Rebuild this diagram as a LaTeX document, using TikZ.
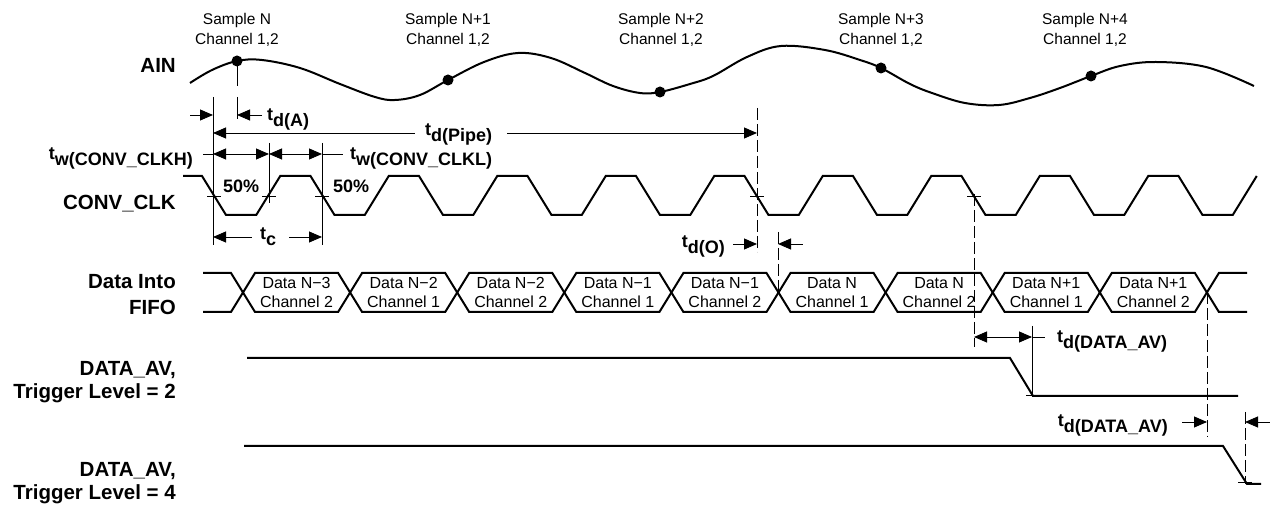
\documentclass[tikz,border=0pt]{standalone}
\usepackage{fontspec}
\setmainfont{Liberation Sans}
\usepackage{tikz}
\usetikzlibrary{arrows.meta}

\newcommand{\tsub}[2]{#1\raisebox{-0.33em}{#2}}

\begin{document}
\begin{tikzpicture}[x=1pt,y=-1pt,
    wave/.style={line width=2pt},
    guide/.style={line width=0.9pt},
    dashline/.style={line width=0.9pt,dash pattern=on 12pt off 4pt},
    sig/.style={font=\fontsize{20.5}{24}\selectfont\bfseries,inner sep=0pt,anchor=base east},
    tlab/.style={font=\fontsize{18}{20}\selectfont\bfseries,inner sep=0pt},
    smp/.style={font=\fontsize{15.5}{20}\selectfont,align=center,inner sep=0pt},
    dat/.style={font=\fontsize{16}{19}\selectfont,align=center,inner sep=0pt}]
\useasboundingbox (0,0) rectangle (1278,510);
\begin{scope}[>={Triangle[length=13pt,width=11pt]}]

    \node[sig] (ain) at (176,73) {AIN};
    \node[sig] (clk) at (176,210) {CONV\_CLK};
    \node[sig] (fifoA) at (176,289) {Data Into};
    \node[sig] (fifoB) at (176,315) {FIFO};
    \node[sig] (avA) at (176,376) {DATA\_AV,};
    \node[sig] (avB) at (176,399) {Trigger Level = 2};
    \node[sig] (avC) at (176,477) {DATA\_AV,};
    \node[sig] (avD) at (176,500) {Trigger Level = 4};

    \draw[wave] plot[smooth,tension=0.6] coordinates {
        (190,83) (212,70) (237,61) (262,60) (300,68) (340,84) (375,97)
        (395,100) (420,95) (448,80) (484,62) (518,53) (551,58) (585,73)
        (613,86) (640,93) (660,92) (690,84) (713,76) (747,57) (781,46)
        (825,50) (860,60) (881,68) (910,84) (932,93) (965,103) (999,105)
        (1030,98) (1060,88) (1091,76) (1120,66) (1156,62) (1206,67) (1254,86)};
    \foreach \n/\x/\y/\t/\tx in {a/237/61/N/237, b/448/80/N+1/448, c/660/92/N+2/661,
                                d/881/68/N+3/881, e/1091/76/N+4/1085} {
        \fill (\x,\y) circle(5.5);
        \node[smp] (smp\n) at (\tx,29.5) {Sample \t\\Channel 1,2};
    }

    \draw[guide] (237,61) -- (237,86);
    \draw[guide] (213,97) -- (213,245);
    \draw[guide] (237,97) -- (237,119);
    \draw[guide] (269,143) -- (269,203);
    \draw[guide] (322,143) -- (322,245);

    \draw[guide,->] (190,115) -- (213,115);
    \draw[guide,->] (262,115) -- (237,115);
    \node[tlab,anchor=base west] (tdA) at (267,121) {\tsub{t}{d(A)}};

    \draw[guide,<-] (213,133) -- (415,133);
    \draw[guide,->] (507,133) -- (757,133);
    \node[tlab,anchor=base west] (tdPipe) at (425,136) {\tsub{t}{d(Pipe)}};
    \draw[dashline] (757,108) -- (757,252);

    \draw[guide] (203,154) -- (213,154);
    \draw[guide,<->] (213,154) -- (269,154);
    \draw[guide,<->] (269,154) -- (322,154);
    \draw[guide] (322,154) -- (343,154);
    \node[tlab,anchor=base east] (twH) at (193,160) {\tsub{t}{w(CONV\_CLKH)}};
    \node[tlab,anchor=base west] (twL) at (350,160) {\tsub{t}{w(CONV\_CLKL)}};

    \draw[wave] (183,176) foreach \k in {0,...,9} {
        -- ({202+108.5*\k},176) -- ({226+108.5*\k},215)
        -- ({256.25+108.5*\k},215) -- ({280.25+108.5*\k},176) };
    \foreach \x in {214,269,322,757,974}
        \draw[guide] (\x-7,196) -- (\x+7,196);
    \node[tlab,anchor=base west] (pctA) at (223,193) {50\%};
    \node[tlab,anchor=base west] (pctB) at (333,193) {50\%};

    \draw[guide,<-] (213,237) -- (252,237);
    \draw[guide,->] (289,237) -- (322,237);
    \node[tlab,anchor=base west] (tc) at (260,240) {\tsub{t}{c}};

    \draw[guide,->] (733,244) -- (757,244);
    \draw[guide,<-] (778,244) -- (803,244);
    \node[tlab,anchor=base east] (tdO) at (725,248) {\tsub{t}{d(O)}};
    \draw[dashline] (778,232) -- (778,292);

    \draw[wave] (203,273) -- (231,273) -- (243,292.5) -- (231,312) -- (203,312);
    \foreach \i/\t/\c in {0/N−3/2, 1/N−2/1, 2/N−2/2, 3/N−1/1, 4/N−1/2,
                          5/N/1, 6/N/2, 7/N+1/1, 8/N+1/2} {
        \draw[wave] ({243+107.1*\i},292.5) -- ({255+107.1*\i},273)
            -- ({338.1+107.1*\i},273) -- ({350.1+107.1*\i},292.5)
            -- ({338.1+107.1*\i},312) -- ({255+107.1*\i},312) -- cycle;
        \node[dat] (d\i) at ({296.55+107.1*\i},292.5) {Data \t\\Channel \c};
    }
    \draw[wave] (1247,273) -- (1218.9,273) -- (1206.9,292.5) -- (1218.9,312) -- (1247,312);

    \draw[dashline] (974,194) -- (974,347);
    \draw[guide,<->] (974,337) -- (1032,337);
    \draw[guide] (1032,337) -- (1045,337);
    \draw[guide] (1032,326) -- (1032,397);
    \node[tlab,anchor=base west] (tdAvA) at (1057,343) {\tsub{t}{d(DATA\_AV)}};

    \draw[wave] (247,358) -- (1010,358) -- (1033,396) -- (1238,396);
    \draw[guide] (1026,395) -- (1040,395);

    \draw[dashline] (1207,292) -- (1207,437);
    \draw[guide,->] (1182,422) -- (1207,422);
    \draw[guide,<-] (1245,422) -- (1270,422);
    \node[tlab,anchor=base east] (tdAvB) at (1168,427) {\tsub{t}{d(DATA\_AV)}};
    \draw[dashline] (1245,412) -- (1245,484);

    \draw[wave] (244,446) -- (1223,446) -- (1247,484) -- (1261,484);
    \draw[guide] (1238,482) -- (1252,482);
\end{scope}
\end{tikzpicture}
\end{document}
